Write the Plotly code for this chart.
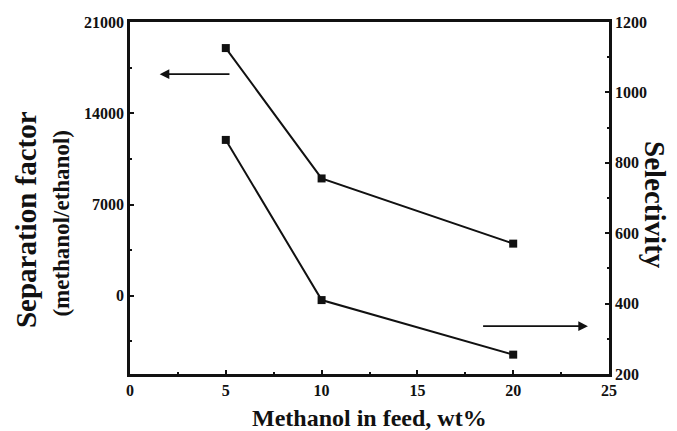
import plotly.graph_objects as go

# Methanol concentration in feed (wt%)
methanol_wt = [5, 10, 20]
# Separation factor (methanol/ethanol), left axis
separation_factor = [19000, 9000, 4000]
# Selectivity, right axis
selectivity = [865, 410, 255]

x_ticks = [0, 5, 10, 15, 20, 25]
left_ticks = [0, 7000, 14000, 21000]
right_ticks = [200, 400, 600, 800, 1000, 1200]

FONT = "Liberation Serif"
BLACK = "#111111"


def bold_labels(values):
    return [f"<b>{v}</b>" for v in values]


fig = go.Figure()

fig.add_trace(go.Scatter(
    x=methanol_wt, y=separation_factor, mode="lines+markers",
    line=dict(color=BLACK, width=2),
    marker=dict(symbol="square", size=8, color=BLACK),
    yaxis="y", showlegend=False,
))
fig.add_trace(go.Scatter(
    x=methanol_wt, y=selectivity, mode="lines+markers",
    line=dict(color=BLACK, width=2),
    marker=dict(symbol="square", size=8, color=BLACK),
    yaxis="y2", showlegend=False,
))

tickfont = dict(family=FONT, size=16, color=BLACK)

fig.update_layout(
    width=677, height=431,
    margin=dict(l=130, r=68, t=22, b=57),
    paper_bgcolor="white", plot_bgcolor="white",
    font=dict(family=FONT, color=BLACK),
    xaxis=dict(
        range=[0, 25], tickvals=x_ticks, ticktext=bold_labels(x_ticks),
        ticks="inside", ticklen=4, tickwidth=2,
        tickcolor=BLACK, showline=True, linewidth=2.5, linecolor=BLACK, mirror=True,
        showgrid=False, zeroline=False, tickfont=tickfont,
        minor=dict(dtick=2.5, ticks="inside", ticklen=2, tickwidth=1.5, tickcolor=BLACK),
    ),
    yaxis=dict(
        range=[-6000, 21000], tickvals=left_ticks, ticktext=bold_labels(left_ticks),
        ticks="inside", ticklen=4, tickwidth=2,
        tickcolor=BLACK, showline=True, linewidth=2.5, linecolor=BLACK,
        showgrid=False, zeroline=False, tickfont=tickfont,
        minor=dict(tick0=0, dtick=3500, ticks="inside", ticklen=2, tickwidth=1.5, tickcolor=BLACK),
    ),
    yaxis2=dict(
        range=[200, 1200], tickvals=right_ticks, ticktext=bold_labels(right_ticks),
        overlaying="y", side="right",
        ticks="inside", ticklen=4, tickwidth=2,
        tickcolor=BLACK, showline=True, linewidth=2.5, linecolor=BLACK,
        showgrid=False, zeroline=False, tickfont=tickfont,
        minor=dict(dtick=100, ticks="inside", ticklen=2, tickwidth=1.5, tickcolor=BLACK),
    ),
)

# Axis titles
fig.add_annotation(
    text="<b>Methanol in feed, wt%</b>", xref="paper", yref="paper", x=0.5, y=-0.125,
    xanchor="center", yanchor="middle", showarrow=False,
    font=dict(family=FONT, size=24, color=BLACK),
)
fig.add_annotation(
    text="<b>Separation factor</b>", xref="paper", yref="paper", x=-0.217, y=0.4375,
    xanchor="center", yanchor="middle", textangle=-90, showarrow=False,
    font=dict(family=FONT, size=29, color=BLACK),
)
fig.add_annotation(
    text="<b>(methanol/ethanol)</b>", xref="paper", yref="paper", x=-0.142, y=0.43,
    xanchor="center", yanchor="middle", textangle=-90, showarrow=False,
    font=dict(family=FONT, size=23, color=BLACK),
)
fig.add_annotation(
    text="<b>Selectivity</b>", xref="paper", yref="paper", x=1.096, y=0.48,
    xanchor="center", yanchor="middle", textangle=90, showarrow=False,
    font=dict(family=FONT, size=29, color=BLACK),
)

# Arrows pointing each curve to its axis
fig.add_annotation(
    x=1.55, y=17000, ax=5.27, ay=17000, xref="x", yref="y", axref="x", ayref="y",
    text="", showarrow=True, arrowhead=2, arrowsize=1.2, arrowwidth=1.6, arrowcolor=BLACK,
)
fig.add_annotation(
    x=23.9, y=336, ax=18.35, ay=336, xref="x", yref="y2", axref="x", ayref="y2",
    text="", showarrow=True, arrowhead=2, arrowsize=1.2, arrowwidth=1.6, arrowcolor=BLACK,
)

fig.write_html("out.html")
